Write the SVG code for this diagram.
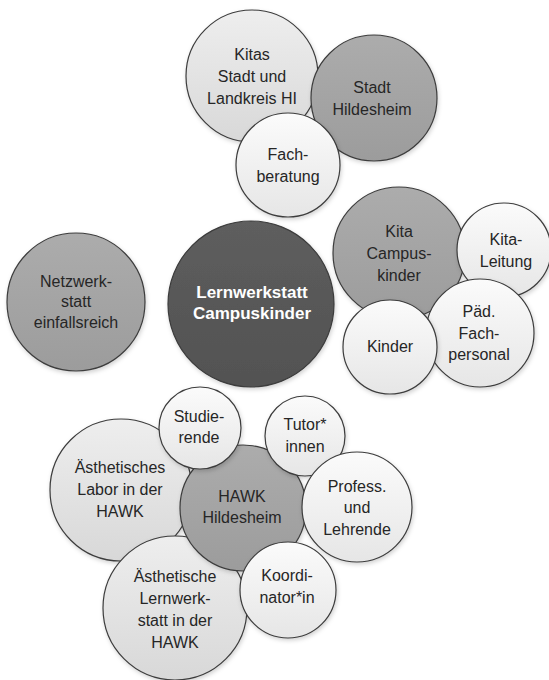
<svg xmlns="http://www.w3.org/2000/svg" width="549" height="680" viewBox="0 0 549 680">
<defs>
<linearGradient id="gW" x1="0" y1="0" x2="0" y2="1"><stop offset="0" stop-color="#fbfbfb"/><stop offset="1" stop-color="#e6e6e6"/></linearGradient>
<linearGradient id="gL" x1="0" y1="0" x2="0" y2="1"><stop offset="0" stop-color="#eeeeee"/><stop offset="1" stop-color="#d8d8d8"/></linearGradient>
<linearGradient id="gM" x1="0" y1="0" x2="0" y2="1"><stop offset="0" stop-color="#acacac"/><stop offset="1" stop-color="#9c9c9c"/></linearGradient>
<linearGradient id="gD" x1="0" y1="0" x2="0" y2="1"><stop offset="0" stop-color="#5e5e5e"/><stop offset="1" stop-color="#525252"/></linearGradient>
<filter id="sh" x="-20%" y="-20%" width="140%" height="140%"><feDropShadow dx="1" dy="2" stdDeviation="2" flood-color="#000" flood-opacity="0.18"/></filter>
</defs>
<style>
circle{stroke:#3c3c3c;stroke-width:1.2;filter:url(#sh)}
.w{fill:url(#gW)}.l{fill:url(#gL)}.m{fill:url(#gM)}.d{fill:url(#gD)}
text{font-family:"Liberation Sans",Arial,sans-serif;font-size:16px;fill:#262626;text-anchor:middle}
.b{font-weight:bold;font-size:17px;fill:#ffffff}
</style>
<g id="connectors"></g>
<g id="kitas"><circle class="l" cx="252" cy="76" r="66"/><text x="252" y="60">Kitas</text><text x="252" y="82">Stadt und</text><text x="252" y="104">Landkreis HI</text></g>
<g id="stadt"><circle class="m" cx="374" cy="98" r="63"/><text x="372" y="93">Stadt</text><text x="372" y="115">Hildesheim</text></g>
<g id="fachberatung"><circle class="w" cx="288" cy="165" r="52"/><text x="288" y="160">Fach-</text><text x="288" y="182">beratung</text></g>
<g id="kitacampus"><circle class="m" cx="399" cy="253" r="66"/><text x="399" y="237">Kita</text><text x="399" y="259">Campus-</text><text x="399" y="281">kinder</text></g>
<g id="kitaleitung"><circle class="w" cx="504" cy="250" r="47"/><text x="506" y="245">Kita-</text><text x="506" y="267">Leitung</text></g>
<g id="paed"><circle class="w" cx="480" cy="333" r="54"/><text x="479" y="317">Päd.</text><text x="479" y="339">Fach-</text><text x="479" y="360">personal</text></g>
<g id="kinder"><circle class="w" cx="390" cy="347" r="47"/><text x="390" y="352">Kinder</text></g>
<g id="netzwerkstatt"><circle class="m" cx="76" cy="302" r="69"/><text x="76" y="287">Netzwerk-</text><text x="76" y="307">statt</text><text x="76" y="328">einfallsreich</text></g>
<g id="lernwerkstatt"><circle class="d" cx="251" cy="304" r="83"/><text class="b" x="252" y="298">Lernwerkstatt</text><text class="b" x="252" y="319">Campuskinder</text></g>
<g id="labor"><circle class="l" cx="121" cy="490" r="71"/><text x="120" y="473">Ästhetisches</text><text x="120" y="495">Labor in der</text><text x="120" y="517">HAWK</text></g>
<g id="aesthlernwerkstatt"><circle class="l" cx="175" cy="608" r="72"/><text x="175" y="582">Ästhetische</text><text x="175" y="604">Lernwerk-</text><text x="175" y="626">statt in der</text><text x="175" y="648">HAWK</text></g>
<g id="hawk"><circle class="m" cx="243" cy="508" r="63"/><text x="242" y="502">HAWK</text><text x="242" y="523">Hildesheim</text></g>
<g id="studierende"><circle class="w" cx="200" cy="428" r="41"/><text x="199" y="422">Studie-</text><text x="199" y="443">rende</text></g>
<g id="tutor"><circle class="w" cx="305" cy="436" r="40"/><text x="305" y="430">Tutor*</text><text x="305" y="452">innen</text></g>
<g id="profess"><circle class="w" cx="357" cy="507" r="55"/><text x="357" y="492">Profess.</text><text x="357" y="513">und</text><text x="357" y="535">Lehrende</text></g>
<g id="koordinator"><circle class="w" cx="288" cy="590" r="48"/><text x="287" y="581">Koordi-</text><text x="287" y="603">nator*in</text></g>
</svg>
